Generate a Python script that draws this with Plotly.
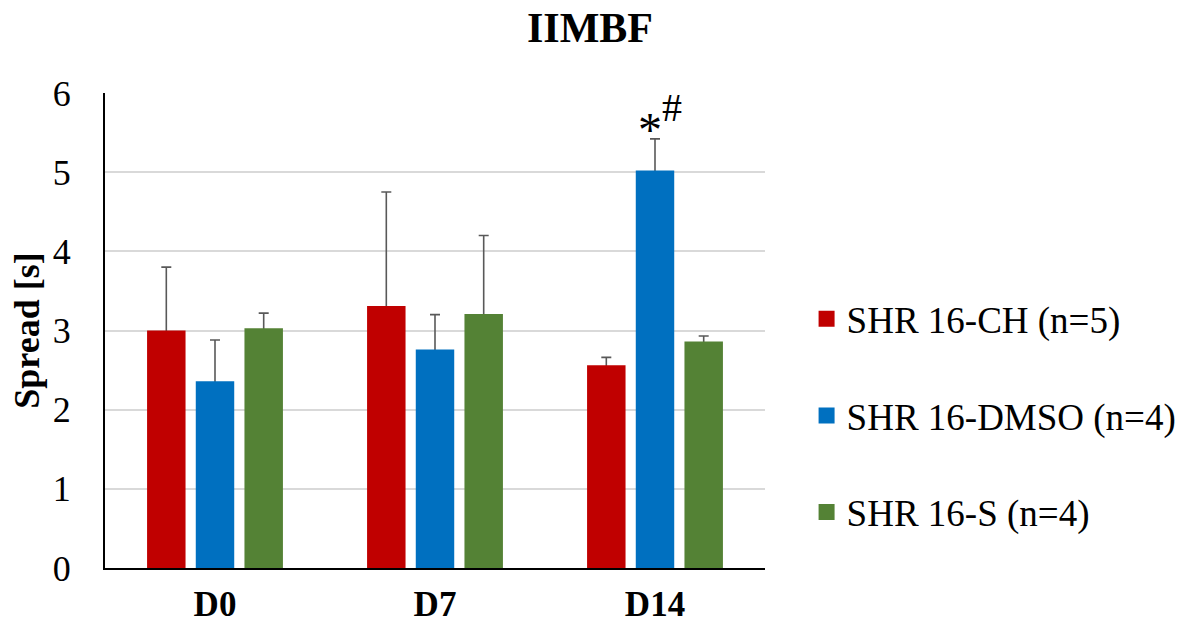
import plotly.graph_objects as go

categories = ["D0", "D7", "D14"]
series_names = ["SHR 16-CH (n=5)", "SHR 16-DMSO (n=4)", "SHR 16-S (n=4)"]
ch_values = [3.00, 3.31, 2.56]
ch_errors = [0.80, 1.44, 0.10]
dmso_values = [2.36, 2.76, 5.02]
dmso_errors = [0.52, 0.44, 0.40]
s_values = [3.03, 3.21, 2.86]
s_errors = [0.19, 0.99, 0.07]
colors = ["#C00000", "#0070C0", "#548235"]
y_ticks = [0, 1, 2, 3, 4, 5, 6]

FONT = "Liberation Serif, Times New Roman, serif"

fig = go.Figure()
all_vals = [ch_values, dmso_values, s_values]
all_errs = [ch_errors, dmso_errors, s_errors]

# error bars on invisible bars first; real bars drawn after hide the stems below bar tops
for i, (name, vals, errs, col) in enumerate(zip(series_names, all_vals, all_errs, colors)):
    fig.add_trace(go.Bar(
        x=categories, y=vals, offsetgroup=str(i), name=name + " err",
        marker=dict(color="rgba(0,0,0,0)", line=dict(width=0)),
        error_y=dict(type="data", symmetric=False, array=errs, arrayminus=vals,
                     color="#595959", thickness=1.6, width=5),
        showlegend=False, hoverinfo="skip"))
for i, (name, vals, errs, col) in enumerate(zip(series_names, all_vals, all_errs, colors)):
    fig.add_trace(go.Bar(
        x=categories, y=vals, offsetgroup=str(i), name=name,
        marker=dict(color=col, line=dict(width=0)),
        showlegend=False))
for i, (name, col) in enumerate(zip(series_names, colors)):
    fig.add_trace(go.Scatter(
        x=[None], y=[None], mode="markers", name=name,
        marker=dict(symbol="square", size=16, color=col),
        legendgroup=str(i), showlegend=True))

top_d14 = dmso_values[2] + dmso_errors[2]
fig.add_annotation(x="D14", y=top_d14, yanchor="middle", xanchor="center",
                   xshift=-5, yshift=9, showarrow=False, text="*",
                   font=dict(family=FONT, size=48, color="black"))
fig.add_annotation(x="D14", y=top_d14, yanchor="middle", xanchor="center",
                   xshift=17, yshift=31, showarrow=False, text="#",
                   font=dict(family=FONT, size=40, color="black"))

fig.update_layout(
    width=1180, height=627,
    margin=dict(l=105, r=415, t=93, b=59, autoexpand=False),
    paper_bgcolor="white", plot_bgcolor="white",
    barmode="group", bargap=0.336, bargroupgap=0.21,
    font=dict(family=FONT, size=36, color="black"),
    title=dict(text="<b>IIMBF</b>", x=0.5, xanchor="center", y=0.957, yanchor="middle",
               font=dict(family=FONT, size=42, color="black")),
    legend=dict(x=1.063, xanchor="left", y=0.589, yanchor="top",
                font=dict(family=FONT, size=37, color="black"),
                tracegroupgap=45.5, bgcolor="rgba(0,0,0,0)"),
    showlegend=True,
)
fig.update_xaxes(
    automargin=False,
    showline=True, linecolor="black", linewidth=2, showgrid=False,
    tickfont=dict(family=FONT, size=35, color="black"),
    tickmode="array", tickvals=categories,
    ticktext=["<b>" + c + "</b>" for c in categories],
    ticks="", ticklabelstandoff=4)
fig.update_yaxes(
    automargin=False,
    range=[0, 6], tickvals=y_ticks, showline=True, linecolor="black", linewidth=2,
    showgrid=True, gridcolor="#D9D9D9", gridwidth=1.5, zeroline=False,
    ticks="", ticklabelstandoff=25,
    tickfont=dict(family=FONT, size=36, color="black"),
    title=dict(text="<b>Spread [s]</b>", standoff=2,
               font=dict(family=FONT, size=36, color="black")))

fig.write_html("out.html")
